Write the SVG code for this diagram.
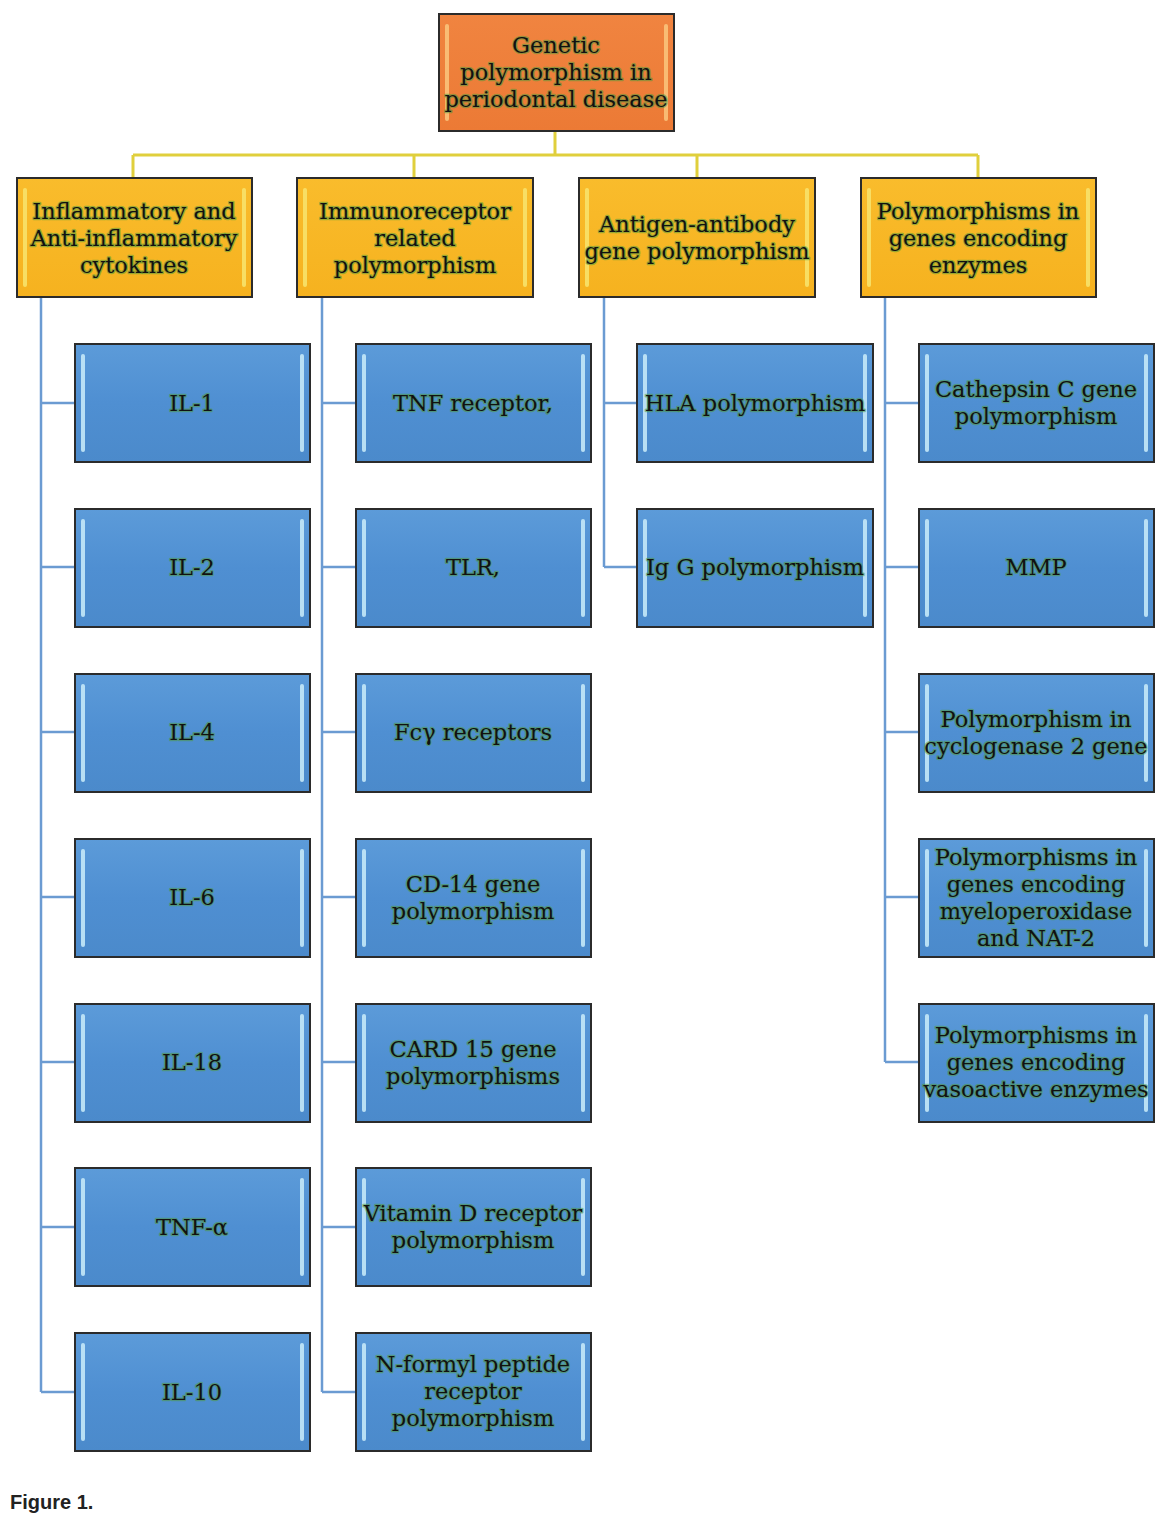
<svg xmlns="http://www.w3.org/2000/svg" width="1156" height="1515" viewBox="0 0 1156 1515">
<defs>
<linearGradient id="gBlue" x1="0" y1="0" x2="0" y2="1">
<stop offset="0" stop-color="#5c9bd9"/><stop offset="0.5" stop-color="#4f8fd2"/><stop offset="1" stop-color="#4b8acb"/>
</linearGradient>
<linearGradient id="gYel" x1="0" y1="0" x2="0" y2="1">
<stop offset="0" stop-color="#f9bc2c"/><stop offset="1" stop-color="#f6b21f"/>
</linearGradient>
<linearGradient id="gOr" x1="0" y1="0" x2="0" y2="1">
<stop offset="0" stop-color="#f08440"/><stop offset="1" stop-color="#ec7a35"/>
</linearGradient>
<style>
.box{stroke:#2b2b2b;stroke-width:2}
.blue{fill:url(#gBlue)}
.yel{fill:url(#gYel)}
.org{fill:url(#gOr)}
.hb{fill:#c4e8f8;opacity:0.9}
.hy{fill:#f7e26a;opacity:0.9}
.ho{fill:#f9c27a;opacity:0.9}
.t{font-family:"DejaVu Serif","Liberation Serif",serif;font-size:22.5px;fill:#111;text-anchor:middle;stroke:#4f9a3a;stroke-width:2.5;stroke-opacity:0.55;paint-order:stroke;stroke-linejoin:round}
.cy{fill:none;stroke:#e0cf3c;stroke-width:3}
.cb{fill:none;stroke:#6b9bd2;stroke-width:2.5}
.cap{font-family:"Liberation Sans Narrow","Liberation Sans",sans-serif;font-weight:bold;font-size:20px;fill:#222}
</style>
</defs>
<rect width="1156" height="1515" fill="#ffffff"/>

<g id="connectors">
<path class="cy" d="M555 131V155M133 155H978M133 155V178M414 155V178M697 155V178M978 155V178"/>
<path class="cb" d="M41 297V1392M41 403H75M41 567H75M41 732H75M41 897H75M41 1062H75M41 1227H75M41 1392H75"/>
<path class="cb" d="M322 297V1392M322 403H356M322 567H356M322 732H356M322 897H356M322 1062H356M322 1227H356M322 1392H356"/>
<path class="cb" d="M604 297V567M604 403H637M604 567H637"/>
<path class="cb" d="M885 297V1062M885 403H919M885 567H919M885 732H919M885 897H919M885 1062H919"/>
</g>

<g id="root">
<rect class="box org" x="439" y="14" width="235" height="117"/>
<rect class="ho" x="445" y="24" width="4" height="97" rx="2"/><rect class="ho" x="664" y="24" width="4" height="97" rx="2"/>
<text class="t" x="556" y="53">Genetic</text>
<text class="t" x="556" y="80">polymorphism in</text>
<text class="t" x="556" y="107">periodontal disease</text>
</g>

<g id="cat1">
<rect class="box yel" x="17" y="178" width="235" height="119"/>
<rect class="hy" x="23" y="188" width="4" height="99" rx="2"/><rect class="hy" x="242" y="188" width="4" height="99" rx="2"/>
<text class="t" x="134" y="219">Inflammatory and</text>
<text class="t" x="134" y="246">Anti-inflammatory</text>
<text class="t" x="134" y="273">cytokines</text>
</g>
<g id="cat2">
<rect class="box yel" x="297" y="178" width="236" height="119"/>
<rect class="hy" x="303" y="188" width="4" height="99" rx="2"/><rect class="hy" x="523" y="188" width="4" height="99" rx="2"/>
<text class="t" x="415" y="219">Immunoreceptor</text>
<text class="t" x="415" y="246">related</text>
<text class="t" x="415" y="273">polymorphism</text>
</g>
<g id="cat3">
<rect class="box yel" x="579" y="178" width="236" height="119"/>
<rect class="hy" x="585" y="188" width="4" height="99" rx="2"/><rect class="hy" x="805" y="188" width="4" height="99" rx="2"/>
<text class="t" x="697" y="232">Antigen-antibody</text>
<text class="t" x="697" y="259">gene polymorphism</text>
</g>
<g id="cat4">
<rect class="box yel" x="861" y="178" width="235" height="119"/>
<rect class="hy" x="867" y="188" width="4" height="99" rx="2"/><rect class="hy" x="1086" y="188" width="4" height="99" rx="2"/>
<text class="t" x="978" y="219">Polymorphisms in</text>
<text class="t" x="978" y="246">genes encoding</text>
<text class="t" x="978" y="273">enzymes</text>
</g>

<!-- column 1 -->
<g id="il1"><rect class="box blue" x="75" y="344" width="235" height="118"/><rect class="hb" x="81" y="354" width="4" height="98" rx="2"/><rect class="hb" x="300" y="354" width="4" height="98" rx="2"/><text class="t" x="192" y="411">IL-1</text></g>
<g id="il2"><rect class="box blue" x="75" y="509" width="235" height="118"/><rect class="hb" x="81" y="519" width="4" height="98" rx="2"/><rect class="hb" x="300" y="519" width="4" height="98" rx="2"/><text class="t" x="192" y="575">IL-2</text></g>
<g id="il4"><rect class="box blue" x="75" y="674" width="235" height="118"/><rect class="hb" x="81" y="684" width="4" height="98" rx="2"/><rect class="hb" x="300" y="684" width="4" height="98" rx="2"/><text class="t" x="192" y="740">IL-4</text></g>
<g id="il6"><rect class="box blue" x="75" y="839" width="235" height="118"/><rect class="hb" x="81" y="849" width="4" height="98" rx="2"/><rect class="hb" x="300" y="849" width="4" height="98" rx="2"/><text class="t" x="192" y="905">IL-6</text></g>
<g id="il18"><rect class="box blue" x="75" y="1004" width="235" height="118"/><rect class="hb" x="81" y="1014" width="4" height="98" rx="2"/><rect class="hb" x="300" y="1014" width="4" height="98" rx="2"/><text class="t" x="192" y="1070">IL-18</text></g>
<g id="tnfa"><rect class="box blue" x="75" y="1168" width="235" height="118"/><rect class="hb" x="81" y="1178" width="4" height="98" rx="2"/><rect class="hb" x="300" y="1178" width="4" height="98" rx="2"/><text class="t" x="192" y="1235">TNF-α</text></g>
<g id="il10"><rect class="box blue" x="75" y="1333" width="235" height="118"/><rect class="hb" x="81" y="1343" width="4" height="98" rx="2"/><rect class="hb" x="300" y="1343" width="4" height="98" rx="2"/><text class="t" x="192" y="1400">IL-10</text></g>

<!-- column 2 -->
<g id="tnfr"><rect class="box blue" x="356" y="344" width="235" height="118"/><rect class="hb" x="362" y="354" width="4" height="98" rx="2"/><rect class="hb" x="581" y="354" width="4" height="98" rx="2"/><text class="t" x="473" y="411">TNF receptor,</text></g>
<g id="tlr"><rect class="box blue" x="356" y="509" width="235" height="118"/><rect class="hb" x="362" y="519" width="4" height="98" rx="2"/><rect class="hb" x="581" y="519" width="4" height="98" rx="2"/><text class="t" x="473" y="575">TLR,</text></g>
<g id="fcy"><rect class="box blue" x="356" y="674" width="235" height="118"/><rect class="hb" x="362" y="684" width="4" height="98" rx="2"/><rect class="hb" x="581" y="684" width="4" height="98" rx="2"/><text class="t" x="473" y="740">Fcγ receptors</text></g>
<g id="cd14"><rect class="box blue" x="356" y="839" width="235" height="118"/><rect class="hb" x="362" y="849" width="4" height="98" rx="2"/><rect class="hb" x="581" y="849" width="4" height="98" rx="2"/><text class="t" x="473" y="892">CD-14 gene</text><text class="t" x="473" y="919">polymorphism</text></g>
<g id="card15"><rect class="box blue" x="356" y="1004" width="235" height="118"/><rect class="hb" x="362" y="1014" width="4" height="98" rx="2"/><rect class="hb" x="581" y="1014" width="4" height="98" rx="2"/><text class="t" x="473" y="1057">CARD 15 gene</text><text class="t" x="473" y="1084">polymorphisms</text></g>
<g id="vdr"><rect class="box blue" x="356" y="1168" width="235" height="118"/><rect class="hb" x="362" y="1178" width="4" height="98" rx="2"/><rect class="hb" x="581" y="1178" width="4" height="98" rx="2"/><text class="t" x="473" y="1221">Vitamin D receptor</text><text class="t" x="473" y="1248">polymorphism</text></g>
<g id="nfpr"><rect class="box blue" x="356" y="1333" width="235" height="118"/><rect class="hb" x="362" y="1343" width="4" height="98" rx="2"/><rect class="hb" x="581" y="1343" width="4" height="98" rx="2"/><text class="t" x="473" y="1372">N-formyl peptide</text><text class="t" x="473" y="1399">receptor</text><text class="t" x="473" y="1426">polymorphism</text></g>

<!-- column 3 -->
<g id="hla"><rect class="box blue" x="637" y="344" width="236" height="118"/><rect class="hb" x="643" y="354" width="4" height="98" rx="2"/><rect class="hb" x="863" y="354" width="4" height="98" rx="2"/><text class="t" x="755" y="411">HLA polymorphism</text></g>
<g id="igg"><rect class="box blue" x="637" y="509" width="236" height="118"/><rect class="hb" x="643" y="519" width="4" height="98" rx="2"/><rect class="hb" x="863" y="519" width="4" height="98" rx="2"/><text class="t" x="755" y="575">Ig G polymorphism</text></g>

<!-- column 4 -->
<g id="cathepsin"><rect class="box blue" x="919" y="344" width="235" height="118"/><rect class="hb" x="925" y="354" width="4" height="98" rx="2"/><rect class="hb" x="1144" y="354" width="4" height="98" rx="2"/><text class="t" x="1036" y="397">Cathepsin C gene</text><text class="t" x="1036" y="424">polymorphism</text></g>
<g id="mmp"><rect class="box blue" x="919" y="509" width="235" height="118"/><rect class="hb" x="925" y="519" width="4" height="98" rx="2"/><rect class="hb" x="1144" y="519" width="4" height="98" rx="2"/><text class="t" x="1036" y="575">MMP</text></g>
<g id="cox2"><rect class="box blue" x="919" y="674" width="235" height="118"/><rect class="hb" x="925" y="684" width="4" height="98" rx="2"/><rect class="hb" x="1144" y="684" width="4" height="98" rx="2"/><text class="t" x="1036" y="727">Polymorphism in</text><text class="t" x="1036" y="754">cyclogenase 2 gene</text></g>
<g id="mpo"><rect class="box blue" x="919" y="839" width="235" height="118"/><rect class="hb" x="925" y="849" width="4" height="98" rx="2"/><rect class="hb" x="1144" y="849" width="4" height="98" rx="2"/><text class="t" x="1036" y="865">Polymorphisms in</text><text class="t" x="1036" y="892">genes encoding</text><text class="t" x="1036" y="919">myeloperoxidase</text><text class="t" x="1036" y="946">and NAT-2</text></g>
<g id="vaso"><rect class="box blue" x="919" y="1004" width="235" height="118"/><rect class="hb" x="925" y="1014" width="4" height="98" rx="2"/><rect class="hb" x="1144" y="1014" width="4" height="98" rx="2"/><text class="t" x="1036" y="1043">Polymorphisms in</text><text class="t" x="1036" y="1070">genes encoding</text><text class="t" x="1036" y="1097">vasoactive enzymes</text></g>

<text class="cap" x="10" y="1509">Figure 1.</text>
</svg>
